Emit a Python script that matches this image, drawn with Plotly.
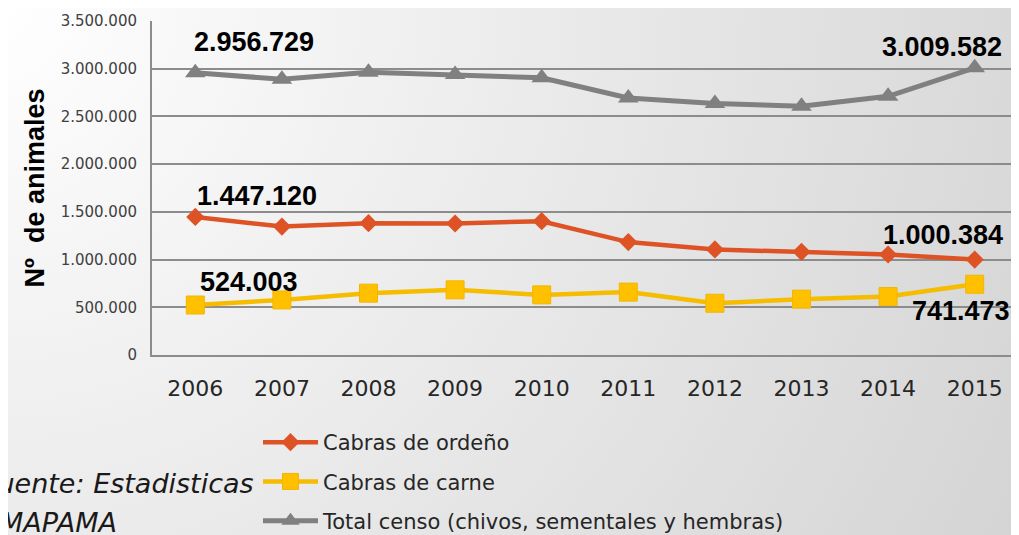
import base64
import plotly.graph_objects as go

years = ["2006", "2007", "2008", "2009", "2010", "2011", "2012", "2013", "2014", "2015"]
ordeno = [1447120, 1346000, 1381000, 1378000, 1402000, 1183000, 1106000, 1081000, 1053000, 1000384]
carne = [524003, 577000, 648000, 683000, 630000, 659000, 542000, 585000, 612000, 741473]
total = [2956729, 2889000, 2962000, 2940000, 2905000, 2694000, 2636000, 2606000, 2711000, 3009582]
names = ["Cabras de ordeño", "Cabras de carne", "Total censo (chivos, sementales y hembras)"]
y_ticks = [0, 500000, 1000000, 1500000, 2000000, 2500000, 3000000, 3500000]

# page body has an 8px margin: figure coords = screen coords - 8
OFF = 8
W, H = 1011, 527
L, R, T, B = 144, 1, 13, 180
pw, ph = W - L - R, H - T - B

svg = (
    f'<svg xmlns="http://www.w3.org/2000/svg" width="{W}" height="{H}">'
    f'<defs><radialGradient id="g" gradientUnits="userSpaceOnUse" cx="{-OFF}" cy="{-OFF}" r="1150">'
    '<stop offset="0" stop-color="#ffffff"/><stop offset="1" stop-color="#d4d4d4"/>'
    '</radialGradient></defs>'
    f'<rect width="{W}" height="{H}" fill="url(#g)"/></svg>'
)
bg = "data:image/svg+xml;base64," + base64.b64encode(svg.encode()).decode()

xi = list(range(len(years)))

fig = go.Figure()
fig.add_trace(go.Scatter(
    x=xi, y=ordeno, name=names[0], mode="lines+markers", legendgroup="a",
    line=dict(color="#DE5325", width=4.5),
    marker=dict(symbol="diamond", size=14, color="#DE5325"),
))
fig.add_trace(go.Scatter(
    x=xi, y=carne, name=names[1], mode="lines+markers", legendgroup="b",
    line=dict(color="#F5BC00", width=4.5),
    marker=dict(symbol="square", size=18, color="#FFC000", line=dict(color="#F2B600", width=1)),
))
fig.add_trace(go.Scatter(
    x=xi, y=total, name=names[2], mode="lines+markers", legendgroup="c",
    line=dict(color="#808080", width=5),
    marker=dict(symbol="triangle-up", size=18, color="#808080"),
))

def fmt(v):
    return f"{v:,}".replace(",", ".")

lab_font = dict(family="Liberation Sans, Arial", size=27, color="#000000")
first, last = 0, len(years) - 1
labels = [
    (first, total[0], 59, 31),
    (first, ordeno[0], 62, 21),
    (first, carne[0], 54, 23),
    (last, total[-1], -33, 21),
    (last, ordeno[-1], -32, 25),
    (last, carne[-1], -14, -27),
]
for xv, yv, xs, ys in labels:
    fig.add_annotation(x=xv, y=yv, text=f"<b>{fmt(yv)}</b>", showarrow=False,
                       xshift=xs, yshift=ys, font=lab_font)

src_font = dict(family="DejaVu Sans", size=27, color="#1a1a1a")
fig.add_annotation(
    xref="paper", yref="paper", x=(256 - OFF - L) / pw, y=(347 - (484 - OFF)) / ph,
    xanchor="right", yanchor="middle", showarrow=False,
    text="<i>Fuente: Estadisticas</i>", font=src_font,
)
fig.add_annotation(
    xref="paper", yref="paper", x=(-2 - OFF - L) / pw, y=(347 - (522 - OFF)) / ph,
    xanchor="left", yanchor="middle", showarrow=False,
    text="<i>MAPAMA</i>", font=src_font,
)

fig.add_layout_image(
    source=bg, xref="paper", yref="paper", x=-L / pw, y=1 + T / ph,
    sizex=W / pw, sizey=H / ph, xanchor="left", yanchor="top",
    sizing="stretch", layer="below",
)

fig.update_layout(
    width=W, height=H,
    margin=dict(l=L, r=R, t=T, b=B, autoexpand=False),
    paper_bgcolor="#ffffff", plot_bgcolor="rgba(0,0,0,0)",
    separators=",.",
    showlegend=True,
    legend=dict(
        x=(263 - OFF - 5 - L) / pw, y=(347 - 414) / ph, xanchor="left", yanchor="top",
        orientation="v", traceorder="grouped", tracegroupgap=9,
        font=dict(family="DejaVu Sans", size=21, color="#262626"),
        bgcolor="rgba(0,0,0,0)", itemwidth=55,
    ),
    xaxis=dict(
        range=[-0.5, len(years) - 0.5], tickmode="array", tickvals=xi, ticktext=years,
        showgrid=False, showline=True, linecolor="#8c8c8c", linewidth=2, zeroline=False,
        ticks="outside", ticklen=13, tickcolor="rgba(0,0,0,0)",
        tickfont=dict(family="DejaVu Sans", size=22, color="#262626"),
    ),
    yaxis=dict(
        range=[0, 3500000], tickvals=y_ticks, tickformat=",d",
        showgrid=True, gridcolor="#8c8c8c", gridwidth=1.6,
        showline=True, linecolor="#8c8c8c", linewidth=2, zeroline=False,
        ticks="outside", ticklen=10, tickcolor="rgba(0,0,0,0)",
        tickfont=dict(family="DejaVu Sans", size=15, color="#404040"),
        title=dict(text="<b>Nº  de animales</b>", standoff=8,
                   font=dict(family="Liberation Sans, Arial", size=27, color="#000000")),
    ),
)

fig.write_html("out.html")
